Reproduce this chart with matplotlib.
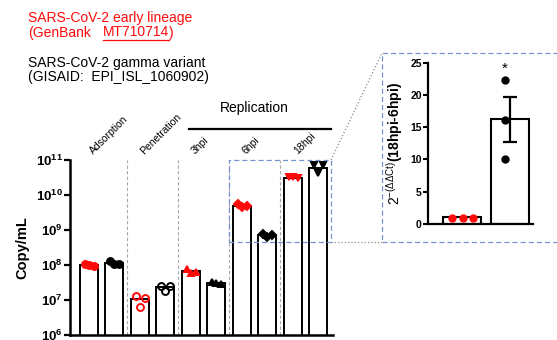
import matplotlib
matplotlib.use("Agg")
import matplotlib.pyplot as plt
from matplotlib.lines import Line2D
from matplotlib.patches import Rectangle
import matplotlib.transforms as mtransforms
import numpy as np

plt.rcParams["font.family"] = ["Liberation Sans", "DejaVu Sans"]
plt.rcParams["mathtext.fontset"] = "custom"
plt.rcParams["mathtext.rm"] = "Liberation Sans"
plt.rcParams["mathtext.bf"] = "Liberation Sans:bold"
plt.rcParams["mathtext.it"] = "Liberation Sans:italic"

# data (copies/mL)
stages = ["Adsorption", "Penetration", "3hpi", "6hpi", "18hpi"]
early_mean = [1.0e8, 1.05e7, 6.7e7, 4.9e9, 3.1e10]
gamma_mean = [1.12e8, 2.35e7, 3.0e7, 7.1e8, 5.8e10]
early_pts = [[1.05e8, 1.0e8, 0.95e8], [1.3e7, 6.4e6, 1.16e7], [7.8e7, 6.0e7, 6.2e7],
             [5.5e9, 4.6e9, 4.8e9], [3.3e10, 3.2e10, 3.0e10]]
gamma_pts = [[1.3e8, 1.1e8, 1.05e8], [2.5e7, 1.8e7, 2.5e7], [3.2e7, 3.0e7, 2.9e7],
             [7.5e8, 6.5e8, 7.2e8], [7.2e10, 4.2e10, 7.2e10]]
stage_markers = ["o", "o", "^", "D", "v"]
stage_filled = [True, False, True, True, True]

# inset: 2^-(ddCt) 18hpi vs 6hpi
inset_mean = [1.1, 16.2]
inset_err = [0.0, 3.5]
inset_early_pts = [1.0, 1.0, 1.0]
inset_gamma_pts = [22.3, 16.1, 10.1]

RED = "#ff0a0a"
BLUE = "#7393cc"
GREY = "#8c8c8c"

W, H = 557, 340
fig = plt.figure(figsize=(W / 100, H / 100), dpi=100)


def fx(px):
    return px / W


def fy(py):
    return 1 - py / H


# ---- main chart ----
ax = fig.add_axes([fx(70), fy(335), (333 - 70) / W, (335 - 160) / H])
ax.set_yscale("log")
x = np.arange(len(stages))
off, bw = 0.245, 0.353
ax.bar(x - off, early_mean, width=bw, facecolor="white", edgecolor="black", linewidth=1.4, zorder=2)
ax.bar(x + off, gamma_mean, width=bw, facecolor="white", edgecolor="black", linewidth=1.4, zorder=2)

jit = [-0.09, 0.0, 0.09]
for i in range(len(stages)):
    m = stage_markers[i]
    ms = 4.2 if m == "D" else 5
    for pts, col, xc in [(early_pts[i], RED, x[i] - off), (gamma_pts[i], "black", x[i] + off)]:
        for j, v in enumerate(pts):
            ax.plot(xc + jit[j], v, marker=m, ms=ms, mew=1.4,
                    mfc=col if stage_filled[i] else "none", mec=col, ls="none", zorder=3)

ax.set_xlim(-0.627, 4.53)
ax.set_ylim(1e6, 1e11)
ax.set_xticks([])
ax.set_yticks([10.0 ** k for k in range(6, 12)])
ax.set_yticklabels([r"$\mathbf{10^{%d}}$" % k for k in range(6, 12)], fontsize=9.5)
ax.yaxis.set_minor_locator(matplotlib.ticker.NullLocator())
ax.tick_params(axis="y", length=4, width=1.6, pad=1)
for s in ["top", "right"]:
    ax.spines[s].set_visible(False)
for s in ["left", "bottom"]:
    ax.spines[s].set_linewidth(1.8)
ax.set_ylabel("Copy/mL", fontsize=10.5, fontweight="bold", labelpad=5)

ax.vlines(x[:-1] + 0.5, 1e6, 1e11, colors="#a8a8a8", linestyles=(0, (3, 2)), linewidth=0.8, zorder=1)

# dashed box around 6hpi / 18hpi
ax.add_patch(Rectangle((2.5, 10 ** 8.66), 2.0, 1e11 - 10 ** 8.66, fill=False, ls=(0, (4, 2.5)),
                       ec=BLUE, lw=0.9, clip_on=False, zorder=4))

# rotated stage labels above the plot
trans = mtransforms.blended_transform_factory(ax.transData, ax.transAxes)
for i, s in enumerate(stages):
    ax.text(x[i] - 0.17, 1.03, s, transform=trans, rotation=45, rotation_mode="anchor",
            ha="left", va="baseline", fontsize=7.5)

# replication bracket
fig.add_artist(Line2D([fx(189), fx(331)], [fy(129), fy(129)], color="black", lw=1.6,
                      transform=fig.transFigure))
fig.text(fx(254), fy(112.5), "Replication", ha="center", va="baseline", fontsize=10)

# ---- inset ----
ins = fig.add_axes([fx(428), fy(224), (533 - 428) / W, (224 - 62.7) / H])
ix = np.arange(2)
ins.bar(ix, inset_mean, width=0.81, facecolor="white", edgecolor="black", linewidth=1.5, zorder=2)
ins.errorbar(ix[1], inset_mean[1], yerr=inset_err[1], color="black", capsize=5, elinewidth=1.6,
             capthick=1.6, ls="none", zorder=3)
for j, v in enumerate(inset_early_pts):
    ins.plot(ix[0] + [-0.2, 0.02, 0.22][j], v, "o", ms=5, color=RED, zorder=3)
for v in inset_gamma_pts:
    ins.plot(ix[1] - 0.1, v, "o", ms=5, color="black", zorder=3)
ins.text(ix[1] - 0.1, 24.0, "*", ha="center", va="center", fontsize=11)
ins.set_xlim(-0.708, 1.48)
ins.set_ylim(0, 25)
ins.set_xticks([])
ins.set_yticks(range(0, 26, 5))
ins.set_yticklabels([str(v) for v in range(0, 26, 5)], fontsize=7.5, fontweight="bold")
ins.tick_params(axis="y", length=3.5, width=1.5, pad=1)
for s in ["top", "right"]:
    ins.spines[s].set_visible(False)
for s in ["left", "bottom"]:
    ins.spines[s].set_linewidth(1.6)
ins.set_ylabel(r"$2^{-(\Delta\Delta \mathrm{Ct})}$(18hpi-6hpi)", fontsize=10, fontweight="bold",
               labelpad=4)

# inset frame and connectors
fig.add_artist(Rectangle((fx(382), fy(242)), fx(575) - fx(382), (242 - 53) / H, fill=False,
                         ls=(0, (4, 2.5)), ec=BLUE, lw=0.9, transform=fig.transFigure, clip_on=False))
fig.add_artist(Line2D([fx(331), fx(382)], [fy(160), fy(53)], color=GREY, ls=":", lw=0.9,
                      transform=fig.transFigure))
fig.add_artist(Line2D([fx(331), fx(382)], [fy(242), fy(242)], color=GREY, ls=":", lw=0.9,
                      transform=fig.transFigure))

# ---- legend text ----
fs = 10
fig.text(fx(28), fy(21.7), "SARS-CoV-2 early lineage", color=RED, fontsize=fs, va="baseline")
t1 = fig.text(fx(28), fy(36.5), "(GenBank", color=RED, fontsize=fs, va="baseline")
fig.canvas.draw()
r = fig.canvas.get_renderer()
e1 = t1.get_window_extent(r)
t2 = fig.text((e1.x1 + 12) / W, fy(36.5), "MT710714", color=RED, fontsize=fs, va="baseline")
e2 = t2.get_window_extent(r)
fig.text(e2.x1 / W, fy(36.5), ")", color=RED, fontsize=fs, va="baseline")
fig.add_artist(Line2D([e2.x0 / W, e2.x1 / W], [fy(39.5), fy(39.5)], color=RED, lw=0.9,
                      transform=fig.transFigure))
fig.text(fx(28), fy(66.5), "SARS-CoV-2 gamma variant", color="black", fontsize=fs, va="baseline")
fig.text(fx(28), fy(81.5), "(GISAID:  EPI_ISL_1060902)", color="black", fontsize=fs, va="baseline")

fig.savefig("out.png", dpi=100)
